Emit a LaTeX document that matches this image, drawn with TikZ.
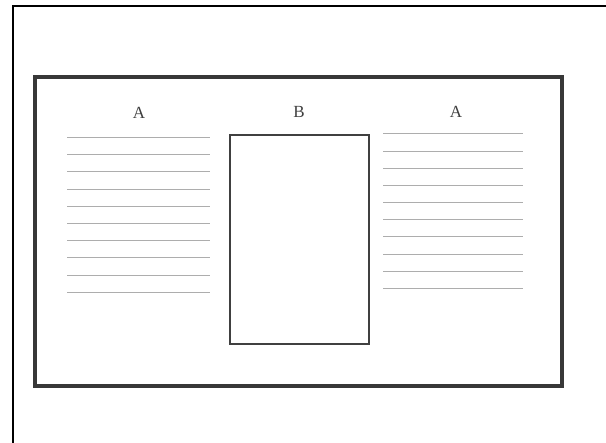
\documentclass[tikz,border=0pt]{standalone}
\usepackage{fontspec}
\setmainfont{Liberation Serif}
\begin{document}
\begin{tikzpicture}[x=1pt,y=-1pt,
  frameline/.style={line width=2pt,black},
  panel/.style={line width=3.6pt,draw=black!78},
  boxb/.style={line width=1.5pt,draw=black!75},
  textline/.style={line width=0.8pt,draw=black!32},
  letter/.style={font=\fontsize{17}{19}\selectfont,text=black!75,inner sep=0pt}]
\useasboundingbox (0,0) rectangle (606,443);
% outer page edges (top and left)
\draw[frameline] (13,443) -- (13,6) -- (606,6);
% main panel
\draw[panel] (35,77) rectangle (562,386);
% box B
\draw[boxb] (230,135) rectangle (369,344);
% labels
\node[letter] (a1) at (139,113) {A};
\node[letter] (b) at (299,112) {B};
\node[letter] (a2) at (456,112) {A};
% left text lines
\foreach \y in {137,154,171,189,206,223,240,257,275,292}
  \draw[textline] (67,\y) -- (210,\y);
% right text lines
\foreach \y in {133,151,168,185,202,219,236,254,271,288}
  \draw[textline] (383,\y) -- (523,\y);
\end{tikzpicture}
\end{document}
